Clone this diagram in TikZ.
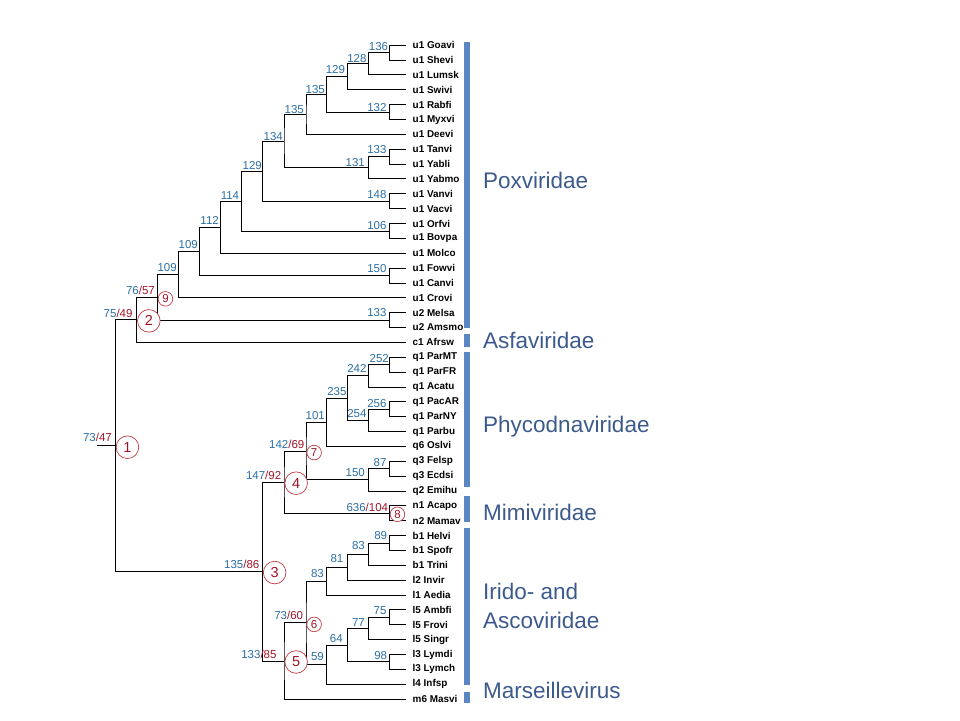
\documentclass[tikz,border=0pt]{standalone}
\usepackage{fontspec}
\setmainfont{Liberation Sans}
\usetikzlibrary{calc}
\definecolor{cblue}{RGB}{42,110,166}
\definecolor{cred}{RGB}{160,20,40}
\definecolor{ccirc}{RGB}{192,60,70}
\definecolor{cbar}{RGB}{90,134,196}
\definecolor{cclade}{RGB}{60,90,140}
% internal node: name, x, upper child, lower child
\newcommand\mkclade[4]{%
  \coordinate (#1m) at ($(#3)!0.5!(#4)$);
  \coordinate (#1) at (#2,0 |- #1m);
  \draw[branch] (#3) -| (#1) |- (#4);}
% support label: node, dx, dy, text
\newcommand\slab[4]{\node[suplab] (s#1) at ([shift={(#2,#3)}]#1) {#4};}
\begin{document}
\begin{tikzpicture}[x=1pt,y=-1pt,
  branch/.style={draw=black, line width=0.9pt},
  leaf/.style={anchor=west, inner xsep=6.5pt, inner ysep=0pt, font=\fontsize{9.9}{10}\selectfont\bfseries},
  suplab/.style={anchor=base east, inner sep=0pt, font=\fontsize{11.5}{12}\selectfont, text=cblue},
  bigc/.style={circle, draw=ccirc, fill=white, line width=0.7pt, minimum size=22.6pt, inner sep=0pt, anchor=west, text=cred, font=\fontsize{14.5}{15}\selectfont},
  smallc/.style={circle, draw=ccirc, fill=white, line width=0.7pt, minimum size=14.6pt, inner sep=0pt, anchor=west, text=cred, font=\fontsize{11.5}{12}\selectfont},
  bar/.style={fill=cbar},
  cladelab/.style={anchor=base west, inner sep=0pt, text=cclade, font=\fontsize{22.5}{27}\selectfont}]
\useasboundingbox (0,0) rectangle (960,720);

% leaves
\foreach \t [count=\i from 0] in {u1 Goavi,u1 Shevi,u1 Lumsk,u1 Swivi,u1 Rabfi,u1 Myxvi,u1 Deevi,u1 Tanvi,u1 Yabli,u1 Yabmo,u1 Vanvi,u1 Vacvi,u1 Orfvi,u1 Bovpa,u1 Molco,u1 Fowvi,u1 Canvi,u1 Crovi,u2 Melsa,u2 Amsmo,c1 Afrsw,q1 ParMT,q1 ParFR,q1 Acatu,q1 PacAR,q1 ParNY,q1 Parbu,q6 Oslvi,q3 Felsp,q3 Ecdsi,q2 Emihu,n1 Acapo,n2 Mamav,b1 Helvi,b1 Spofr,b1 Trini,l2 Invir,l1 Aedia,l5 Ambfi,l5 Frovi,l5 Singr,l3 Lymdi,l3 Lymch,l4 Infsp,m6 Masvi}
  \node[leaf] (L\i) at (406,{45.2+14.86*\i}) {\t};

% Poxviridae
\mkclade{n136}{389.3}{L0}{L1}
\mkclade{n128}{368.3}{n136}{L2}
\mkclade{n129a}{347.5}{n128}{L3}
\mkclade{n132}{389.3}{L4}{L5}
\mkclade{n135a}{326.7}{n129a}{n132}
\mkclade{n135b}{306}{n135a}{L6}
\mkclade{n133}{389.3}{L7}{L8}
\mkclade{n131}{368.3}{n133}{L9}
\mkclade{n134}{284}{n135b}{n131}
\mkclade{n148}{389.3}{L10}{L11}
\mkclade{n129b}{262.5}{n134}{n148}
\mkclade{n106}{389.3}{L12}{L13}
\mkclade{n114}{241.7}{n129b}{n106}
\mkclade{n112}{220.5}{n114}{L14}
\mkclade{n150}{389.3}{L15}{L16}
\mkclade{n109a}{199.5}{n112}{n150}
\mkclade{n109b}{178.5}{n109a}{L17}
\mkclade{nu2}{389.3}{L18}{L19}
\mkclade{n9}{157.3}{n109b}{nu2}
\mkclade{n2}{136.7}{n9}{L20}
% Phycodnaviridae / Mimiviridae
\mkclade{n252}{389.3}{L21}{L22}
\mkclade{n242}{368.3}{n252}{L23}
\mkclade{n256}{389.3}{L24}{L25}
\mkclade{n254}{368.3}{n256}{L26}
\mkclade{n235}{347.5}{n242}{n254}
\mkclade{n101}{326.7}{n235}{L27}
\mkclade{n87}{389.3}{L28}{L29}
\mkclade{n150q}{368.3}{n87}{L30}
\mkclade{n7}{306}{n101}{n150q}
\mkclade{n8}{389.3}{L31}{L32}
\mkclade{n4}{284}{n7}{n8}
% Irido / Asco / Marseille
\mkclade{n89}{389.3}{L33}{L34}
\mkclade{n83a}{368.3}{n89}{L35}
\mkclade{n81}{347.5}{n83a}{L36}
\mkclade{n83b}{326.7}{n81}{L37}
\mkclade{n75}{389.3}{L38}{L39}
\mkclade{n77}{368.3}{n75}{L40}
\mkclade{n98}{389.3}{L41}{L42}
\mkclade{n64}{347.5}{n77}{n98}
\mkclade{n59}{326.7}{n64}{L43}
\mkclade{n6}{306}{n83b}{n59}
\mkclade{n5}{284}{n6}{L44}
\mkclade{n3}{262.5}{n4}{n5}
\mkclade{n1}{115.3}{n2}{n3}
\coordinate (root) at (96.7,0 |- n1);
\draw[branch] (root) -- (n1);

% support labels
\slab{n136}{-1}{-2.5}{136}
\slab{n128}{-1.6}{-1}{128}
\slab{n129a}{-2.3}{-3.4}{129}
\slab{n135a}{-1.7}{-1}{135}
\slab{n132}{-2.6}{-1}{132}
\slab{n135b}{-2}{-1.3}{135}
\slab{n134}{-1}{-1}{134}
\slab{n133}{-2.6}{-3}{133}
\slab{n131}{-3.3}{-1.5}{131}
\slab{n129b}{-0.5}{-1.3}{129}
\slab{n148}{-2.6}{-3}{148}
\slab{n114}{-2.4}{-1.5}{114}
\slab{n106}{-2.6}{-1.7}{106}
\slab{n112}{-1.5}{-3}{112}
\slab{n150}{-2.6}{-2.7}{150}
\slab{n109a}{-1.5}{-3}{109}
\slab{n109b}{-1.6}{-3.3}{109}
\slab{nu2}{-2.6}{-3.2}{133}
\slab{n9}{-2.3}{-3.3}{76\textcolor{cred}{/57}}
\slab{n2}{-4}{-2.2}{75\textcolor{cred}{/49}}
\slab{n1}{-3.3}{-4.3}{73\textcolor{cred}{/47}}
\slab{n252}{-0.3}{-2.2}{252}
\slab{n242}{-1.6}{-3.8}{242}
\slab{n256}{-2.6}{-2}{256}
\slab{n254}{-1.6}{-2.7}{254}
\slab{n235}{-0.8}{-3}{235}
\slab{n101}{-1.7}{-3}{101}
\slab{n7}{-1.5}{-2.7}{142\textcolor{cred}{/69}}
\slab{n87}{-2.6}{-2.6}{87}
\slab{n150q}{-3.3}{-3.2}{150}
\slab{n4}{-2.6}{-2.7}{147\textcolor{cred}{/92}}
\slab{n8}{-1}{-1.8}{636\textcolor{cred}{/104}}
\slab{n89}{-2}{-3.3}{89}
\slab{n83a}{-3.3}{-4.5}{83}
\slab{n81}{-4}{-4.2}{81}
\slab{n83b}{-2.7}{-3.2}{83}
\slab{n6}{-2.7}{-3.7}{73\textcolor{cred}{/60}}
\slab{n75}{-2.6}{-3.2}{75}
\slab{n77}{-3.3}{-2}{77}
\slab{n64}{-4.6}{-2.2}{64}
\slab{n98}{-2}{-2.7}{98}
\slab{n59}{-2.7}{-3.7}{59}
\slab{n5}{-7.3}{-2.7}{133\textcolor{cred}{/85}}
\slab{n3}{-3}{-2.7}{135\textcolor{cred}{/86}}

% numbered circles
\node[bigc] (c1) at ([shift={(0.5,1.5)}]n1) {1};
\node[bigc] (c2) at ([shift={(0.5,1)}]n2) {2};
\node[bigc] (c3) at ([shift={(0.5,1)}]n3) {3};
\node[bigc] (c4) at ([shift={(0.5,1)}]n4) {4};
\node[bigc] (c5) at ([shift={(0.5,1)}]n5) {5};
\node[smallc] (c6) at ([shift={(0.5,1.5)}]n6) {6};
\node[smallc] (c7) at ([shift={(0.5,1.5)}]n7) {7};
\node[smallc] (c8) at ([shift={(0.5,1)}]n8) {8};
\node[smallc] (c9) at ([shift={(0.5,1.5)}]n9) {9};

% family bars
\fill[bar] (464,41.5) rectangle (469.5,328);
\fill[bar] (464,334) rectangle (469.5,347);
\fill[bar] (464,352) rectangle (469.5,487);
\fill[bar] (464,496) rectangle (469.5,522);
\fill[bar] (464,528) rectangle (469.5,685);
\fill[bar] (464,692) rectangle (469.5,703);

% family names
\node[cladelab] (fpox) at (483,188.5) {Poxviridae};
\node[cladelab] (fasf) at (483,348) {Asfaviridae};
\node[cladelab] (fphy) at (483,432) {Phycodnaviridae};
\node[cladelab] (fmim) at (483,520.5) {Mimiviridae};
\node[cladelab] (firi) at (483,599.3) {Irido- and};
\node[cladelab] (fasc) at (483,628) {Ascoviridae};
\node[cladelab] (fmar) at (483,698.5) {Marseillevirus};
\end{tikzpicture}
\end{document}
